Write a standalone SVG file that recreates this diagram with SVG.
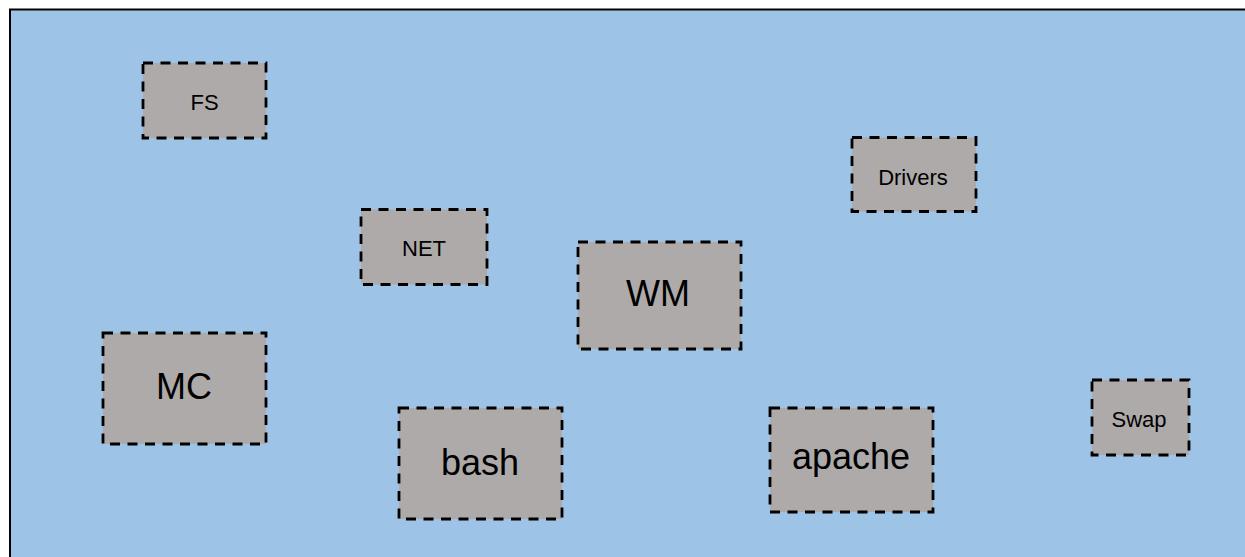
<svg xmlns="http://www.w3.org/2000/svg" width="1245" height="557" viewBox="0 0 1245 557">
  <style>
    .frame { fill: #9DC3E6; stroke: #000000; stroke-width: 2; }
    .box { fill: #AEAAAA; stroke: #000000; stroke-width: 2.8; stroke-dasharray: 10 7.5; }
    .label { font-family: "Liberation Sans", Arial, sans-serif; fill: #000000; text-anchor: middle; }
    .sm { font-size: 22px; }
    .lg { font-size: 36px; }
  </style>
  <rect x="0" y="0" width="1245" height="557" fill="#FFFFFF"/>
  <!-- background panel (continues past the right and bottom edges) -->
  <rect class="frame" x="10" y="9.5" width="1260" height="570"/>

  <g id="connectors"></g>

  <g id="node-fs">
    <rect class="box" x="143" y="63" width="123" height="75"/>
    <text class="label sm" x="204.5" y="110">FS</text>
  </g>
  <g id="node-drivers">
    <rect class="box" x="852" y="137.5" width="124" height="74"/>
    <text class="label sm" x="913" y="185">Drivers</text>
  </g>
  <g id="node-net">
    <rect class="box" x="361" y="209.5" width="126" height="75"/>
    <text class="label sm" x="424" y="256">NET</text>
  </g>
  <g id="node-wm">
    <rect class="box" x="578" y="242" width="163" height="107"/>
    <text class="label lg" x="658" y="306">WM</text>
  </g>
  <g id="node-mc">
    <rect class="box" x="103" y="333" width="163" height="111"/>
    <text class="label lg" x="184" y="399">MC</text>
  </g>
  <g id="node-swap">
    <rect class="box" x="1092" y="380" width="97" height="75"/>
    <text class="label sm" x="1139" y="427">Swap</text>
  </g>
  <g id="node-bash">
    <rect class="box" x="399" y="408" width="163" height="111"/>
    <text class="label lg" x="480" y="475">bash</text>
  </g>
  <g id="node-apache">
    <rect class="box" x="770" y="408" width="163" height="104"/>
    <text class="label lg" x="851" y="469">apache</text>
  </g>
</svg>
